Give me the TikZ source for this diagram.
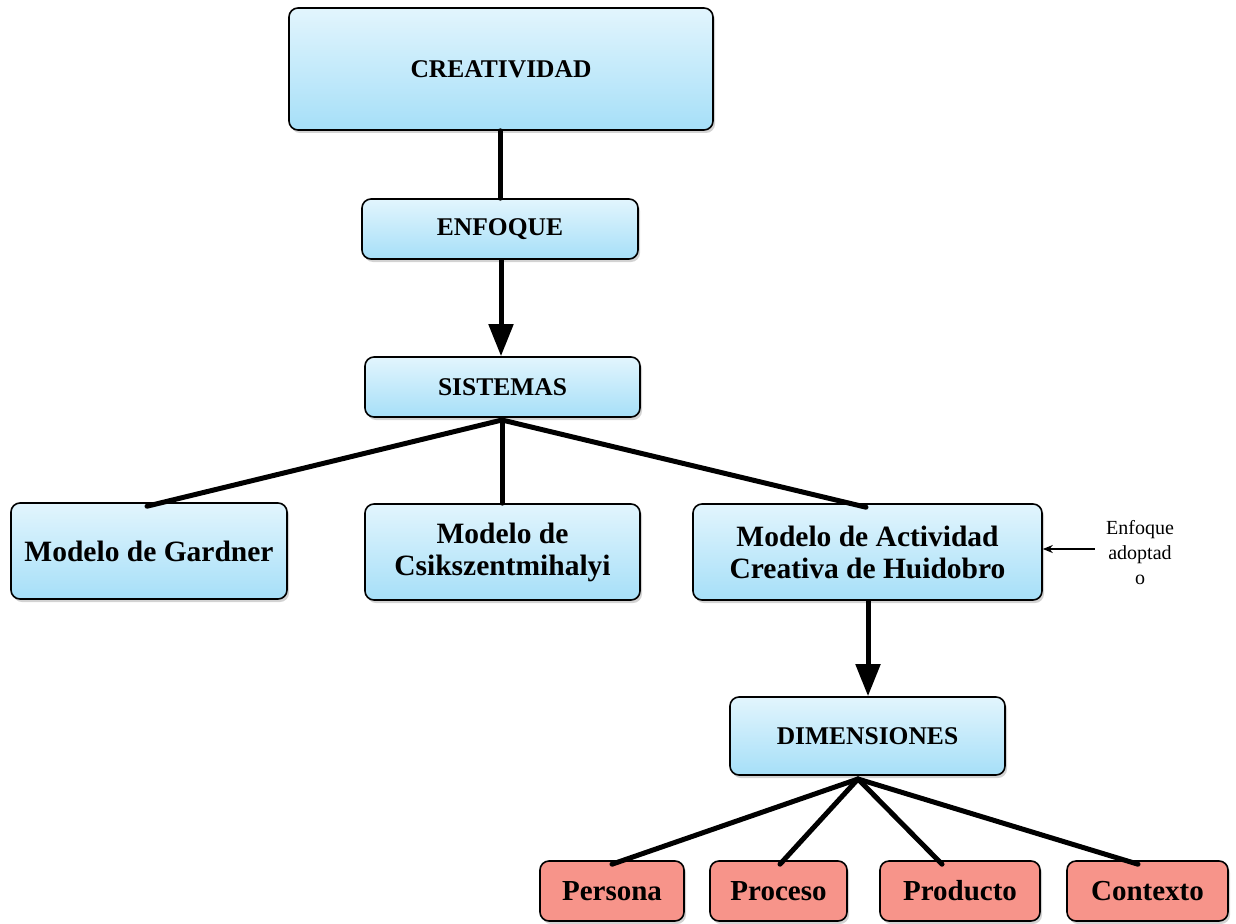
\documentclass[tikz,border=0pt]{standalone}
\usepackage{fontspec}
\setmainfont{Liberation Serif}
\usetikzlibrary{arrows.meta,shadows}
\definecolor{bluetop}{HTML}{E2F5FD}
\definecolor{bluebot}{HTML}{A6DFF8}
\definecolor{redbox}{HTML}{F7948A}
\tikzset{
  bluebox/.style={draw=black, line width=1.6pt, rounded corners=9pt, top color=bluetop, bottom color=bluebot,
    drop shadow={shadow xshift=2pt, shadow yshift=-3pt, opacity=0.35}, align=center,
    font=\fontsize{25.5}{32}\selectfont\bfseries, inner sep=0pt},
  redb/.style={draw=black, line width=1.6pt, rounded corners=9pt, fill=redbox,
    drop shadow={shadow xshift=2pt, shadow yshift=-3pt, opacity=0.35}, align=center,
    font=\fontsize{29}{32}\selectfont\bfseries, inner sep=0pt},
  mixed/.style={font=\fontsize{29.5}{32}\selectfont\bfseries},
  link/.style={line width=5pt, line cap=round},
  bigarrow/.style={line width=5pt, -{Triangle[length=32pt,width=24pt]}},
  note/.style={align=center, font=\fontsize{20}{25}\selectfont},
}
\begin{document}
\begin{tikzpicture}[x=1pt,y=-1pt]
\useasboundingbox (0,0) rectangle (1236,923);
\node[bluebox, minimum width=424pt, minimum height=122pt] (crea) at (501,69) {CREATIVIDAD};
\node[bluebox, minimum width=276pt, minimum height=60pt] (enf) at (500,229) {ENFOQUE};
\node[bluebox, minimum width=275pt, minimum height=60pt] (sis) at (502.5,387) {SISTEMAS};
\node[bluebox, mixed, minimum width=276pt, minimum height=96pt] (gar) at (149,551) {Modelo de Gardner};
\node[bluebox, mixed, minimum width=275pt, minimum height=96pt] (csik) at (502.5,552) {Modelo de\\Csikszentmihalyi};
\node[bluebox, mixed, minimum width=349pt, minimum height=96pt] (hui) at (867.5,552) {Modelo de Actividad\\Creativa de Huidobro};
\node[bluebox, minimum width=275pt, minimum height=78pt] (dim) at (867.5,736) {DIMENSIONES};
\node[redb, minimum width=144pt, minimum height=60pt] (per) at (612,891) {Persona};
\node[redb, minimum width=137pt, minimum height=60pt] (pro) at (778.5,891) {Proceso};
\node[redb, minimum width=160pt, minimum height=60pt] (prd) at (960,891) {Producto};
\node[redb, minimum width=161pt, minimum height=60pt] (con) at (1147.5,891) {Contexto};
\node[note] (nota) at (1140,553) {Enfoque\\adoptad\\o};
% connectors
\draw[link] (crea.south -| 500,0) -- (enf.north -| 500,0);
\draw[bigarrow] (enf.south -| 501,0) -- (sis.north -| 501,0);
\coordinate (sisb) at (502,420);
\draw[link] (sisb) -- ([yshift=-4pt]gar.north -| 147,0);
\draw[link] (sisb) -- (csik.north -| 502,0);
\draw[link] (sisb) -- ([yshift=-4pt]hui.north -| 866,0);
\draw[bigarrow] (hui.south -| 868,0) -- (dim.north -| 868,0);
\coordinate (dimb) at (858,779);
\draw[link] (dimb) -- ([yshift=-4pt]per.north);
\draw[link] (dimb) -- ([yshift=-4pt]pro.north -| 780,0);
\draw[link] (dimb) -- ([yshift=-4pt]prd.north -| 942,0);
\draw[link] (dimb) -- ([yshift=-4pt]con.north -| 1138,0);
\draw[line width=1.6pt, -{Stealth[length=10pt,width=8pt]}] (nota.west |- 0,549) ++(-8,0) -- (hui.east |- 0,549);
\end{tikzpicture}
\end{document}
